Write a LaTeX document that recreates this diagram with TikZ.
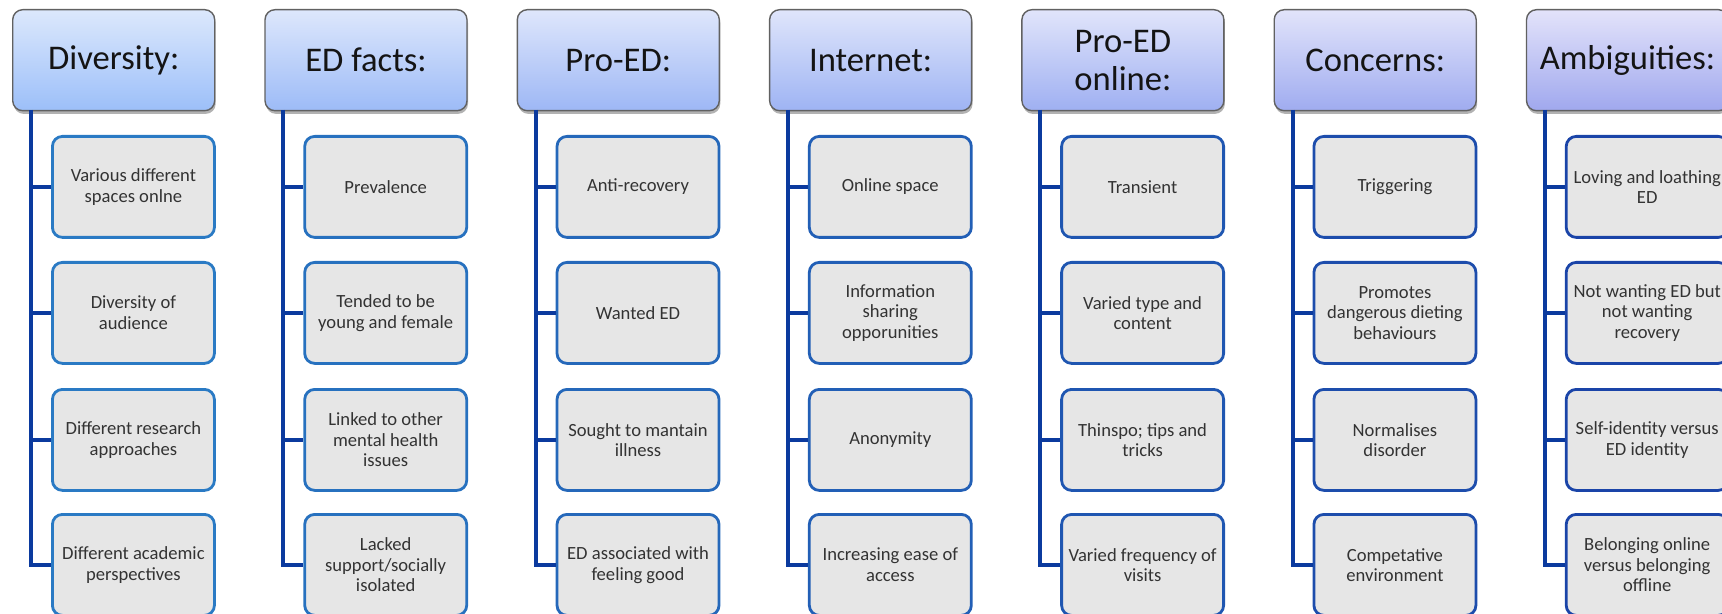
\documentclass[tikz,border=0pt]{standalone}
\usepackage{fontspec}
\setmainfont{Carlito}
\usetikzlibrary{shadows}
\definecolor{hbtopA}{HTML}{DCE8FC}
\definecolor{hbtopB}{HTML}{E3E3FA}
\definecolor{hbbotA}{HTML}{9CBFF9}
\definecolor{hbbotB}{HTML}{A0A8EE}
\definecolor{cbA}{HTML}{2A7AC4}
\definecolor{cbB}{HTML}{1A44A8}
\definecolor{connc}{HTML}{0B3A9E}
\definecolor{cfill}{HTML}{E6E6E6}
\tikzset{
 headbox/.style={draw=black!62, line width=0.7pt, rounded corners=5pt, minimum width=101pt, minimum height=50.5pt, inner sep=0pt, align=center, font=\fontsize{17.3}{19}\selectfont, text=black!92, anchor=north west, drop shadow={shadow xshift=0.5pt, shadow yshift=-1.6pt, opacity=0.3, fill=black}},
 childbox/.style={line width=1.4pt, fill=cfill, rounded corners=5pt, minimum width=81pt, minimum height=50.5pt, inner sep=0pt, align=center, font=\fontsize{9.3}{10.25}\selectfont, text=black!80, anchor=north west},
 linkline/.style={draw=connc, line width=2pt},
}
\begin{document}
\begin{tikzpicture}[x=0.5pt,y=-0.5pt]
\path[use as bounding box, clip] (0,0) rectangle (1722,614);
\foreach \i/\head/\ta/\tb/\tc/\td in {
 1/{Diversity:}/{Various different\\spaces onlne}/{Diversity of\\audience}/{Different research\\approaches}/{Different academic\\perspectives},
 2/{ED facts:}/{Prevalence}/{Tended to be\\young and female}/{Linked to other\\mental health\\issues}/{Lacked\\support/socially\\isolated},
 3/{Pro-ED:}/{Anti-recovery}/{Wanted ED}/{Sought to mantain\\illness}/{ED associated with\\feeling good},
 4/{Internet:}/{Online space}/{Information\\sharing\\opporunities}/{Anonymity}/{Increasing ease of\\access},
 5/{Pro-ED\\online:}/{Transient}/{Varied type and\\content}/{Thinspo; tips and\\tricks}/{Varied frequency of\\visits},
 6/{Concerns:}/{Triggering}/{Promotes\\dangerous dieting\\behaviours}/{Normalises\\disorder}/{Competative\\environment},
 7/{Ambiguities:}/{Loving and loathing\\ED}/{Not wanting ED but\\not wanting\\recovery}/{Self-identity versus\\ED identity}/{Belonging online\\versus belonging\\offline}}
{
 \pgfmathsetmacro\x{12+252.3*(\i-1)}
 \pgfmathtruncatemacro\pct{100-(\i-1)*100/6}
 \colorlet{ht}{hbtopA!\pct!hbtopB}
 \colorlet{hb}{hbbotA!\pct!hbbotB}
 \colorlet{cb}{cbA!\pct!cbB}
 \node[headbox, top color=ht, bottom color=hb] (h\i) at (\x,9) {\head};
 \node[childbox, draw=cb] (c\i-1) at (\x+39,135) {\ta};
 \node[childbox, draw=cb] (c\i-2) at (\x+39,261) {\tb};
 \node[childbox, draw=cb] (c\i-3) at (\x+39,388) {\tc};
 \node[childbox, draw=cb] (c\i-4) at (\x+39,513) {\td};
 \coordinate (t\i) at (\x+19,110);
 \draw[linkline] (t\i) |- (c\i-4.west);
 \draw[linkline] (t\i |- c\i-1.west) -- (c\i-1.west);
 \draw[linkline] (t\i |- c\i-2.west) -- (c\i-2.west);
 \draw[linkline] (t\i |- c\i-3.west) -- (c\i-3.west);
}
\end{tikzpicture}
\end{document}
